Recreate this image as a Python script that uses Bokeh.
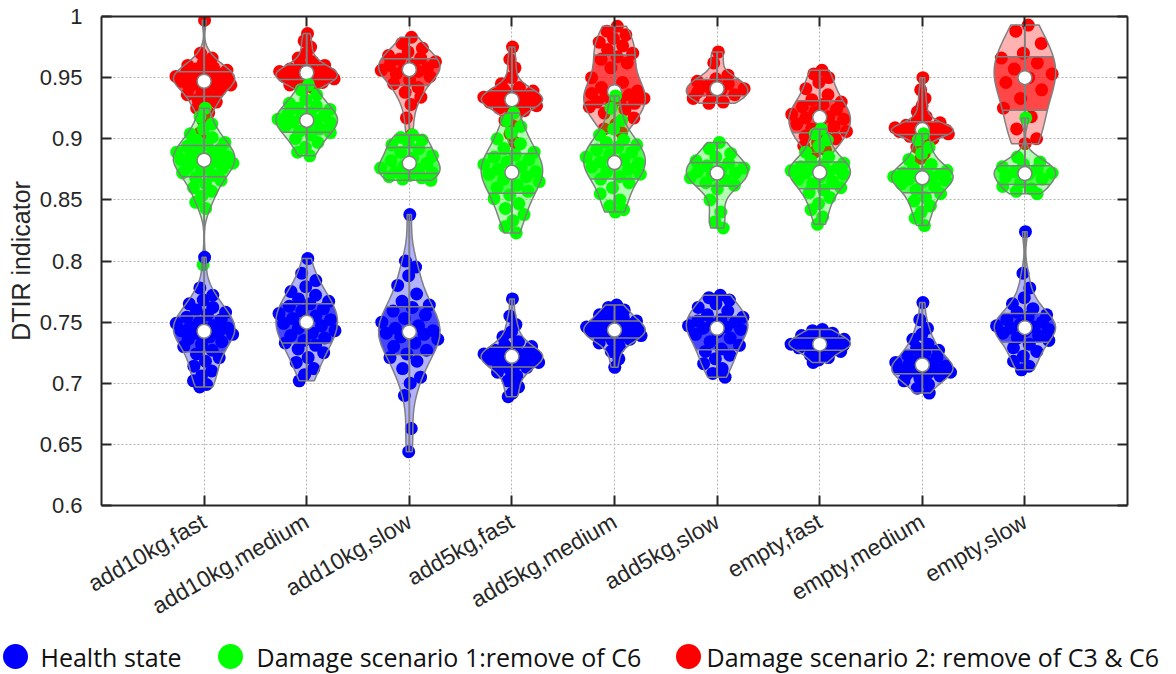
import numpy as np
from bokeh.plotting import figure
from bokeh.models import ColumnDataSource, FixedTicker, LinearAxis, Range1d
from bokeh.embed import file_html
from bokeh.resources import INLINE
from bokeh.core.properties import value

# ---------------------------------------------------------------- data
CATEGORIES = ["add10kg,fast", "add10kg,medium", "add10kg,slow",
              "add5kg,fast", "add5kg,medium", "add5kg,slow",
              "empty,fast", "empty,medium", "empty,slow"]

Y_TICKS = [0.6, 0.65, 0.7, 0.75, 0.8, 0.85, 0.9, 0.95, 1.0]
Y_TICK_LABELS = ["0.6", "0.65", "0.7", "0.75", "0.8", "0.85", "0.9", "0.95", "1"]

LEGEND_LABELS = ["Health state", "Damage scenario 1:remove of C6",
                 "Damage scenario 2: remove of C3 & C6"]

# DTIR indicator, health state
health_add10kg_fast = [0.803, 0.778, 0.772, 0.768, 0.765, 0.762, 0.760, 0.758, 0.756, 0.754,
                       0.752, 0.750, 0.749, 0.747, 0.746, 0.745, 0.744, 0.743, 0.742, 0.741,
                       0.740, 0.738, 0.736, 0.734, 0.732, 0.730, 0.727, 0.724, 0.721, 0.718,
                       0.714, 0.710, 0.706, 0.702, 0.699, 0.697]
health_add10kg_medium = [0.802, 0.790, 0.784, 0.779, 0.775, 0.772, 0.769, 0.767, 0.765, 0.763,
                         0.761, 0.759, 0.757, 0.755, 0.753, 0.752, 0.751, 0.749, 0.747, 0.745,
                         0.743, 0.741, 0.739, 0.737, 0.735, 0.733, 0.731, 0.728, 0.725, 0.721,
                         0.717, 0.712, 0.707, 0.702]
health_add10kg_slow = [0.838, 0.800, 0.795, 0.788, 0.780, 0.773, 0.767, 0.764, 0.762, 0.759,
                       0.756, 0.753, 0.750, 0.747, 0.745, 0.743, 0.742, 0.741, 0.740, 0.738,
                       0.736, 0.733, 0.730, 0.727, 0.724, 0.721, 0.718, 0.712, 0.705, 0.700,
                       0.690, 0.663, 0.644]
health_add5kg_fast = [0.769, 0.755, 0.748, 0.742, 0.738, 0.734, 0.731, 0.730, 0.728, 0.727,
                      0.726, 0.725, 0.724, 0.723, 0.722, 0.722, 0.721, 0.720, 0.719, 0.718,
                      0.717, 0.716, 0.714, 0.713, 0.711, 0.709, 0.706, 0.702, 0.697, 0.692,
                      0.689]
health_add5kg_medium = [0.764, 0.762, 0.760, 0.758, 0.756, 0.754, 0.752, 0.751, 0.750, 0.749,
                        0.748, 0.747, 0.746, 0.745, 0.744, 0.743, 0.743, 0.742, 0.741, 0.740,
                        0.739, 0.738, 0.737, 0.736, 0.735, 0.733, 0.730, 0.726, 0.720, 0.713]
health_add5kg_slow = [0.772, 0.770, 0.768, 0.765, 0.762, 0.759, 0.756, 0.754, 0.752, 0.751,
                      0.750, 0.748, 0.747, 0.746, 0.745, 0.744, 0.742, 0.740, 0.737, 0.734,
                      0.731, 0.728, 0.726, 0.723, 0.720, 0.716, 0.712, 0.708, 0.705]
health_empty_fast = [0.744, 0.743, 0.741, 0.740, 0.739, 0.738, 0.737, 0.736, 0.735, 0.734,
                     0.733, 0.733, 0.732, 0.732, 0.731, 0.731, 0.730, 0.729, 0.728, 0.727,
                     0.726, 0.725, 0.723, 0.721, 0.719, 0.717]
health_empty_medium = [0.766, 0.752, 0.745, 0.740, 0.736, 0.732, 0.729, 0.727, 0.725, 0.723,
                       0.721, 0.719, 0.717, 0.716, 0.715, 0.714, 0.713, 0.712, 0.711, 0.710,
                       0.709, 0.708, 0.707, 0.706, 0.704, 0.702, 0.699, 0.696, 0.692]
health_empty_slow = [0.824, 0.790, 0.778, 0.770, 0.765, 0.761, 0.758, 0.756, 0.754, 0.752,
                     0.750, 0.748, 0.747, 0.746, 0.745, 0.744, 0.743, 0.741, 0.739, 0.737,
                     0.735, 0.732, 0.729, 0.726, 0.722, 0.718, 0.714, 0.711]

# DTIR indicator, damage scenario 1 (C6 removed)
d1_add10kg_fast = [0.925, 0.918, 0.912, 0.908, 0.904, 0.901, 0.899, 0.897, 0.895, 0.894,
                   0.892, 0.891, 0.889, 0.888, 0.886, 0.885, 0.884, 0.883, 0.882, 0.881,
                   0.880, 0.879, 0.877, 0.876, 0.874, 0.872, 0.870, 0.868, 0.866, 0.863,
                   0.860, 0.857, 0.853, 0.848, 0.843, 0.797]
d1_add10kg_medium = [0.944, 0.940, 0.936, 0.932, 0.929, 0.927, 0.925, 0.924, 0.922, 0.920,
                     0.919, 0.917, 0.916, 0.915, 0.914, 0.913, 0.911, 0.910, 0.908, 0.906,
                     0.905, 0.903, 0.900, 0.897, 0.893, 0.889, 0.886]
d1_add10kg_slow = [0.903, 0.901, 0.899, 0.897, 0.895, 0.892, 0.889, 0.886, 0.884, 0.882,
                   0.880, 0.878, 0.876, 0.875, 0.873, 0.872, 0.870, 0.869, 0.868, 0.867,
                   0.866]
d1_add5kg_fast = [0.921, 0.915, 0.910, 0.905, 0.900, 0.896, 0.892, 0.889, 0.887, 0.885,
                  0.883, 0.881, 0.879, 0.877, 0.875, 0.873, 0.872, 0.871, 0.869, 0.867,
                  0.865, 0.862, 0.860, 0.857, 0.854, 0.851, 0.847, 0.843, 0.838, 0.833,
                  0.828, 0.823]
d1_add5kg_medium = [0.935, 0.925, 0.915, 0.908, 0.903, 0.899, 0.897, 0.895, 0.893, 0.891,
                    0.889, 0.887, 0.885, 0.883, 0.881, 0.880, 0.879, 0.877, 0.875, 0.873,
                    0.871, 0.869, 0.867, 0.864, 0.860, 0.855, 0.850, 0.845, 0.842, 0.840]
d1_add5kg_slow = [0.897, 0.892, 0.888, 0.885, 0.882, 0.880, 0.878, 0.876, 0.874, 0.873,
                  0.872, 0.870, 0.868, 0.866, 0.864, 0.862, 0.859, 0.850, 0.840, 0.832,
                  0.827]
d1_empty_fast = [0.908, 0.904, 0.899, 0.894, 0.889, 0.885, 0.882, 0.880, 0.879, 0.877,
                 0.876, 0.875, 0.874, 0.873, 0.872, 0.871, 0.869, 0.867, 0.865, 0.863,
                 0.860, 0.858, 0.856, 0.852, 0.847, 0.842, 0.836, 0.830]
d1_empty_medium = [0.904, 0.899, 0.893, 0.888, 0.883, 0.879, 0.876, 0.874, 0.873, 0.872,
                   0.871, 0.870, 0.869, 0.868, 0.867, 0.866, 0.865, 0.863, 0.861, 0.858,
                   0.855, 0.852, 0.849, 0.845, 0.840, 0.835, 0.829]
d1_empty_slow = [0.917, 0.885, 0.881, 0.879, 0.877, 0.875, 0.873, 0.872, 0.871, 0.869,
                 0.867, 0.864, 0.861, 0.859, 0.857, 0.855]

# DTIR indicator, damage scenario 2 (C3 and C6 removed)
d2_add10kg_fast = [0.997, 0.970, 0.966, 0.962, 0.960, 0.958, 0.957, 0.956, 0.955, 0.954,
                   0.953, 0.952, 0.951, 0.950, 0.949, 0.948, 0.948, 0.947, 0.946, 0.945,
                   0.944, 0.943, 0.942, 0.940, 0.938, 0.936, 0.934, 0.932, 0.930, 0.928,
                   0.925, 0.921, 0.915, 0.905, 0.898]
d2_add10kg_medium = [0.986, 0.980, 0.975, 0.970, 0.966, 0.963, 0.961, 0.960, 0.958, 0.957,
                     0.956, 0.955, 0.955, 0.954, 0.954, 0.953, 0.952, 0.951, 0.950, 0.950,
                     0.949, 0.948, 0.947, 0.946, 0.945, 0.944, 0.942, 0.940]
d2_add10kg_slow = [0.983, 0.978, 0.974, 0.971, 0.968, 0.966, 0.965, 0.963, 0.961, 0.960,
                   0.958, 0.957, 0.956, 0.955, 0.953, 0.951, 0.948, 0.945, 0.942, 0.938,
                   0.934, 0.928, 0.917, 0.903]
d2_add5kg_fast = [0.975, 0.965, 0.958, 0.950, 0.945, 0.942, 0.940, 0.939, 0.938, 0.937,
                  0.936, 0.935, 0.934, 0.933, 0.932, 0.932, 0.931, 0.930, 0.929, 0.928,
                  0.927, 0.926, 0.925, 0.923, 0.920, 0.915, 0.910, 0.904, 0.897]
d2_add5kg_medium = [0.992, 0.988, 0.985, 0.982, 0.979, 0.976, 0.973, 0.970, 0.967, 0.965,
                    0.962, 0.958, 0.950, 0.946, 0.942, 0.939, 0.938, 0.937, 0.936, 0.935,
                    0.933, 0.932, 0.930, 0.929, 0.927, 0.926, 0.924, 0.921, 0.917, 0.912,
                    0.908, 0.905]
d2_add5kg_slow = [0.971, 0.962, 0.952, 0.949, 0.947, 0.945, 0.943, 0.941, 0.940, 0.938,
                  0.936, 0.935, 0.933, 0.930, 0.929]
d2_empty_fast = [0.956, 0.953, 0.950, 0.946, 0.941, 0.936, 0.932, 0.930, 0.928, 0.926,
                 0.924, 0.922, 0.920, 0.918, 0.917, 0.916, 0.914, 0.912, 0.910, 0.908,
                 0.906, 0.904, 0.902, 0.900, 0.897, 0.894, 0.891, 0.889]
d2_empty_medium = [0.950, 0.940, 0.933, 0.927, 0.922, 0.918, 0.915, 0.913, 0.912, 0.911,
                   0.910, 0.909, 0.909, 0.908, 0.907, 0.907, 0.906, 0.906, 0.905, 0.905,
                   0.904, 0.903, 0.902, 0.900, 0.897, 0.893, 0.888, 0.884]
d2_empty_slow = [0.993, 0.988, 0.978, 0.970, 0.966, 0.962, 0.957, 0.953, 0.950, 0.946,
                 0.940, 0.933, 0.925, 0.918, 0.908, 0.900, 0.896]

HEALTH = [health_add10kg_fast, health_add10kg_medium, health_add10kg_slow,
          health_add5kg_fast, health_add5kg_medium, health_add5kg_slow,
          health_empty_fast, health_empty_medium, health_empty_slow]
DAMAGE_1 = [d1_add10kg_fast, d1_add10kg_medium, d1_add10kg_slow,
            d1_add5kg_fast, d1_add5kg_medium, d1_add5kg_slow,
            d1_empty_fast, d1_empty_medium, d1_empty_slow]
DAMAGE_2 = [d2_add10kg_fast, d2_add10kg_medium, d2_add10kg_slow,
            d2_add5kg_fast, d2_add5kg_medium, d2_add5kg_slow,
            d2_empty_fast, d2_empty_medium, d2_empty_slow]

COLORS = {"health": "#0000ff", "d1": "#00ff00", "d2": "#ff0000"}

# drawn back to front: scenario 2, scenario 1, health state
SERIES = [("d2", DAMAGE_2), ("d1", DAMAGE_1), ("health", HEALTH)]

HALF_WIDTH = 0.3
EDGE = "#808080"
INK = "#262626"
FONT = "Liberation Sans"


def violin(vals, n_grid=34):
    """Kernel density profile clipped to the data range, scaled to HALF_WIDTH."""
    v = np.asarray(vals, dtype=float)
    n = len(v)
    med = np.median(v)
    sig = np.median(np.abs(v - med)) / 0.6745
    if sig <= 0:
        sig = max(v.std(), 1e-3)
    bw = sig * (4.0 / (3.0 * n)) ** 0.2
    ys = np.linspace(v.min(), v.max(), n_grid)
    dens = np.exp(-0.5 * ((ys[:, None] - v[None, :]) / bw) ** 2).sum(axis=1)
    hw = HALF_WIDTH * dens / dens.max()
    return ys, hw


def spread(n):
    # evenly interleaved offsets in [-1, 1) for side-by-side point placement
    k = np.arange(1, n + 1)
    return 2.0 * np.mod(k * 0.6180339887, 1.0) - 1.0


# ---------------------------------------------------------------- main plot
p = figure(width=1176, height=634, x_range=Range1d(0, 10), y_range=Range1d(0.6, 1.0),
           output_backend="svg", toolbar_location=None,
           min_border_left=101, min_border_right=49, min_border_top=16,
           min_border_bottom=129)
p.outline_line_color = None
p.background_fill_color = "white"

cat_pos = list(range(1, len(CATEGORIES) + 1))

for key, groups in SERIES:
    color = COLORS[key]
    px, py = [], []
    vx, vy, ix, iy = [], [], [], []
    qx0, qx1, qy = [], [], []
    wx, wy0, wy1 = [], [], []
    mx, my = [], []
    for pos, vals in zip(cat_pos, groups):
        v = np.asarray(vals, dtype=float)
        ys, hw = violin(v)
        q1, q2, q3 = np.quantile(v, [0.25, 0.5, 0.75], method="hazen")

        # jittered points inside the violin
        px.extend(pos + spread(len(v)) * np.interp(v, ys, hw))
        py.extend(v)

        # violin outline
        vx.append(np.concatenate([pos + hw, (pos - hw)[::-1]]))
        vy.append(np.concatenate([ys, ys[::-1]]))

        # inter-quartile band
        yi = np.concatenate([[q1], ys[(ys > q1) & (ys < q3)], [q3]])
        hi = np.interp(yi, ys, hw)
        ix.append(np.concatenate([pos + hi, (pos - hi)[::-1]]))
        iy.append(np.concatenate([yi, yi[::-1]]))

        for q in (q1, q3):
            h = float(np.interp(q, ys, hw))
            qx0.append(pos - h)
            qx1.append(pos + h)
            qy.append(q)

        wx.append(pos)
        wy0.append(v.min())
        wy1.append(v.max())
        mx.append(pos)
        my.append(q2)

    p.scatter(x=px, y=py, size=13, marker="circle", fill_color=color, line_color=None)
    p.patches(xs=vx, ys=vy, fill_color=color, fill_alpha=0.3, line_color=None)
    p.patches(xs=ix, ys=iy, fill_color=color, fill_alpha=0.6, line_color=None)
    p.patches(xs=vx, ys=vy, fill_alpha=0, line_color=EDGE, line_width=1.5)
    p.segment(x0=wx, y0=wy0, x1=wx, y1=wy1, line_color=EDGE, line_width=2)
    p.segment(x0=qx0, y0=qy, x1=qx1, y1=qy, line_color=EDGE, line_width=1.5)
    p.scatter(x=mx, y=my, size=14, marker="circle", fill_color="white",
              line_color=EDGE, line_width=1.5)

# grid
p.xgrid.ticker = FixedTicker(ticks=cat_pos)
p.ygrid.ticker = FixedTicker(ticks=Y_TICKS)
for g in (p.xgrid, p.ygrid):
    g.grid_line_color = "#b4b4b4"
    g.grid_line_dash = "2 2"
    g.grid_line_width = 1

# bottom axis with category labels
xa = p.xaxis[0]
xa.ticker = FixedTicker(ticks=cat_pos)
xa.major_label_overrides = {i: c for i, c in zip(cat_pos, CATEGORIES)}
xa.major_label_orientation = np.pi / 6
xa.major_label_standoff = 14

# left axis
ya = p.yaxis[0]
ya.ticker = FixedTicker(ticks=Y_TICKS)
ya.major_label_overrides = {t: s for t, s in zip(Y_TICKS, Y_TICK_LABELS)}
ya.major_label_standoff = 19
ya.axis_label = "DTIR indicator"
ya.axis_label_text_font = FONT
ya.axis_label_text_font_size = "25px"
ya.axis_label_text_font_style = "normal"
ya.axis_label_text_color = INK
ya.axis_label_standoff = 2

# mirror axes on top and right, ticks only
top = LinearAxis(ticker=FixedTicker(ticks=cat_pos))
right = LinearAxis(ticker=FixedTicker(ticks=Y_TICKS))
p.add_layout(top, "above")
p.add_layout(right, "right")
for ax in (top, right):
    ax.major_label_text_alpha = 0
    ax.major_label_text_font_size = "1px"
    ax.major_label_standoff = 0

for ax in (xa, ya, top, right):
    ax.axis_line_color = INK
    ax.axis_line_width = 2
    ax.major_tick_line_color = INK
    ax.major_tick_line_width = 2
    ax.major_tick_in = 10
    ax.major_tick_out = 0
    ax.minor_tick_line_color = None
    ax.major_label_text_font = FONT
    ax.major_label_text_color = INK

xa.major_label_text_font_size = "23px"
ya.major_label_text_font_size = "22px"

# ---------------------------------------------------------------- legend strip
leg = figure(width=1176, height=40, x_range=Range1d(0, 1176), y_range=Range1d(0, 40),
             output_backend="svg", toolbar_location=None,
             x_axis_type=None, y_axis_type=None, min_border=0)
leg.outline_line_color = None
leg.grid.visible = False

leg_src = ColumnDataSource(dict(
    mx=[15, 230, 688],
    tx=[40, 256, 706],
    y=[18, 18, 18],
    color=[COLORS["health"], COLORS["d1"], COLORS["d2"]],
    label=LEGEND_LABELS,
))
leg.scatter(x="mx", y="y", size=25, marker="circle", fill_color="color",
            line_color=None, source=leg_src)
leg.text(x="tx", y="y", text="label", source=leg_src, text_font=value("Open Sans"),
         text_font_size="25px", text_baseline="middle", text_align="left",
         text_color="#111111")

open("out.html", "w").write(file_html([p, leg], INLINE))
